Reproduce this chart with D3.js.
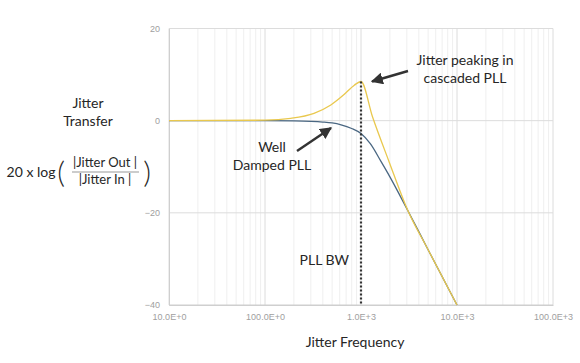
<!DOCTYPE html>
<html>
<head>
<meta charset="utf-8">
<script src="https://cdn.jsdelivr.net/npm/d3@7"></script>
<style>
  body { margin: 0; background: #fff; }
  svg { display: block; font-family: Lato, "Open Sans", sans-serif; }
</style>
</head>
<body>
<svg width="580" height="363"></svg>
<script>
const width = 580, height = 363;
const svg = d3.select("svg");

// Data (frequency in Hz, transfer in dB)
const dampedFreq = [10, 100, 200, 300, 400, 500, 620, 800, 1000, 1250, 1620, 2000, 3090, 5000, 10000];
const dampedDb   = [0, 0, -0.05, -0.15, -0.3, -0.5, -0.9, -1.7, -2.8, -5.0, -8.9, -12.2, -19.6, -28, -40];
const peakFreq   = [10, 100, 185, 324, 485, 661, 851, 1000, 1320, 1960, 3090, 5000, 10000];
const peakDb     = [0, 0.1, 0.5, 1.6, 3.4, 5.6, 7.7, 8.5, 0.8, -8.9, -19.6, -28, -40];
const xTicks = [10, 100, 1000, 10000, 100000];
const xTickLabels = ["10.0E+0", "100.0E+0", "1.0E+3", "10.0E+3", "100.0E+3"];
const yTicks = [20, 0, -20, -40];
const bwFreq = 1000;

const plot = { left: 169, right: 553, top: 28.5, bottom: 305 };

const x = d3.scaleLog().domain([10, 100000]).range([plot.left, plot.right]);
const y = d3.scaleLinear().domain([-40, 20]).range([plot.bottom, plot.top]);

// Minor vertical gridlines
const minorTicks = [];
for (let dec = 10; dec < 100000; dec *= 10) {
    for (let k = 2; k <= 9; k++) minorTicks.push(dec * k);
}
svg.append("g").selectAll("line").data(minorTicks).enter().append("line")
    .attr("x1", d => x(d)).attr("x2", d => x(d))
    .attr("y1", plot.top).attr("y2", plot.bottom)
    .attr("stroke", "#efefef").attr("stroke-width", 1);

// Major vertical gridlines
svg.append("g").selectAll("line").data(xTicks).enter().append("line")
    .attr("x1", d => x(d)).attr("x2", d => x(d))
    .attr("y1", plot.top).attr("y2", plot.bottom)
    .attr("stroke", "#dcdcdc").attr("stroke-width", 1);

// Horizontal gridlines
svg.append("g").selectAll("line").data(yTicks).enter().append("line")
    .attr("x1", plot.left).attr("x2", plot.right)
    .attr("y1", d => y(d)).attr("y2", d => y(d))
    .attr("stroke", d => d === -40 ? "#cfcfcf" : "#dcdcdc").attr("stroke-width", 1);

// Axes (labels only, gridlines drawn above)
const yAxis = svg.append("g")
    .attr("transform", `translate(${plot.left},0)`)
    .call(d3.axisLeft(y).tickValues(yTicks).tickSize(0).tickPadding(9));
yAxis.select(".domain").attr("stroke", "#cfcfcf");
yAxis.selectAll(".tick text").attr("fill", "#a0a0a0").style("font-size", "9px")
    .style("font-family", "'Liberation Sans', sans-serif");

const xAxis = svg.append("g")
    .attr("transform", `translate(0,${plot.bottom})`)
    .call(d3.axisBottom(x).tickValues(xTicks).tickSize(0).tickPadding(9)
        .tickFormat((d, i) => xTickLabels[i]));
xAxis.select(".domain").attr("stroke", "#cfcfcf");
xAxis.selectAll(".tick text").attr("fill", "#a0a0a0").style("font-size", "9px")
    .style("font-family", "'Liberation Sans', sans-serif");

// Curves
const line = d3.line().x(d => x(d[0])).y(d => y(d[1])).curve(d3.curveMonotoneX);

svg.append("path")
    .datum(dampedFreq.map((f, i) => [f, dampedDb[i]]))
    .attr("d", line)
    .attr("fill", "none").attr("stroke", "#4a6782").attr("stroke-width", 1.3);

svg.append("path")
    .datum(peakFreq.map((f, i) => [f, peakDb[i]]))
    .attr("d", line)
    .attr("fill", "none").attr("stroke", "#e9c84e").attr("stroke-width", 1.3);

// PLL bandwidth marker
svg.append("line")
    .attr("x1", x(bwFreq)).attr("x2", x(bwFreq))
    .attr("y1", y(8.5)).attr("y2", plot.bottom)
    .attr("stroke", "#333").attr("stroke-width", 2.2).attr("stroke-dasharray", "2,2");

// Arrows
const defs = svg.append("defs");
defs.append("marker")
    .attr("id", "arrowhead")
    .attr("viewBox", "0 0 10 10")
    .attr("refX", 9).attr("refY", 5)
    .attr("markerWidth", 5).attr("markerHeight", 5)
    .attr("orient", "auto")
    .append("path").attr("d", "M0,0 L10,5 L0,10 Z").attr("fill", "#333");

function arrow(x1, y1, x2, y2) {
    svg.append("line")
        .attr("x1", x1).attr("y1", y1).attr("x2", x2).attr("y2", y2)
        .attr("stroke", "#333").attr("stroke-width", 2.4)
        .attr("marker-end", "url(#arrowhead)");
}
arrow(297, 151, 331, 128);
arrow(408, 71, 372, 81.5);

// Annotation text
function label(txt, tx, ty, size, anchor, weight) {
    svg.append("text")
        .attr("x", tx).attr("y", ty)
        .attr("text-anchor", anchor || "middle")
        .attr("fill", "#262626")
        .style("font-size", size + "px")
        .style("font-weight", weight || 400)
        .text(txt);
}
label("Well", 272, 152, 14);
label("Damped PLL", 272, 170, 14);
label("Jitter peaking in", 465, 65, 14);
label("cascaded PLL", 465, 83, 14);
label("PLL BW", 349, 265, 14, "end");
label("Jitter Frequency", 355, 347, 14);
label("Jitter", 88, 108, 14);
label("Transfer", 88, 126, 14);
label("20 x log", 31, 177, 14);
label("|Jitter Out |", 105, 167, 13);
label("|Jitter In |", 105, 184, 13);
label("(", 61, 183, 30, "middle", 300);
label(")", 147, 183, 30, "middle", 300);

svg.append("line")
    .attr("x1", 72).attr("x2", 139).attr("y1", 172).attr("y2", 172)
    .attr("stroke", "#999").attr("stroke-width", 1);
</script>
</body>
</html>
